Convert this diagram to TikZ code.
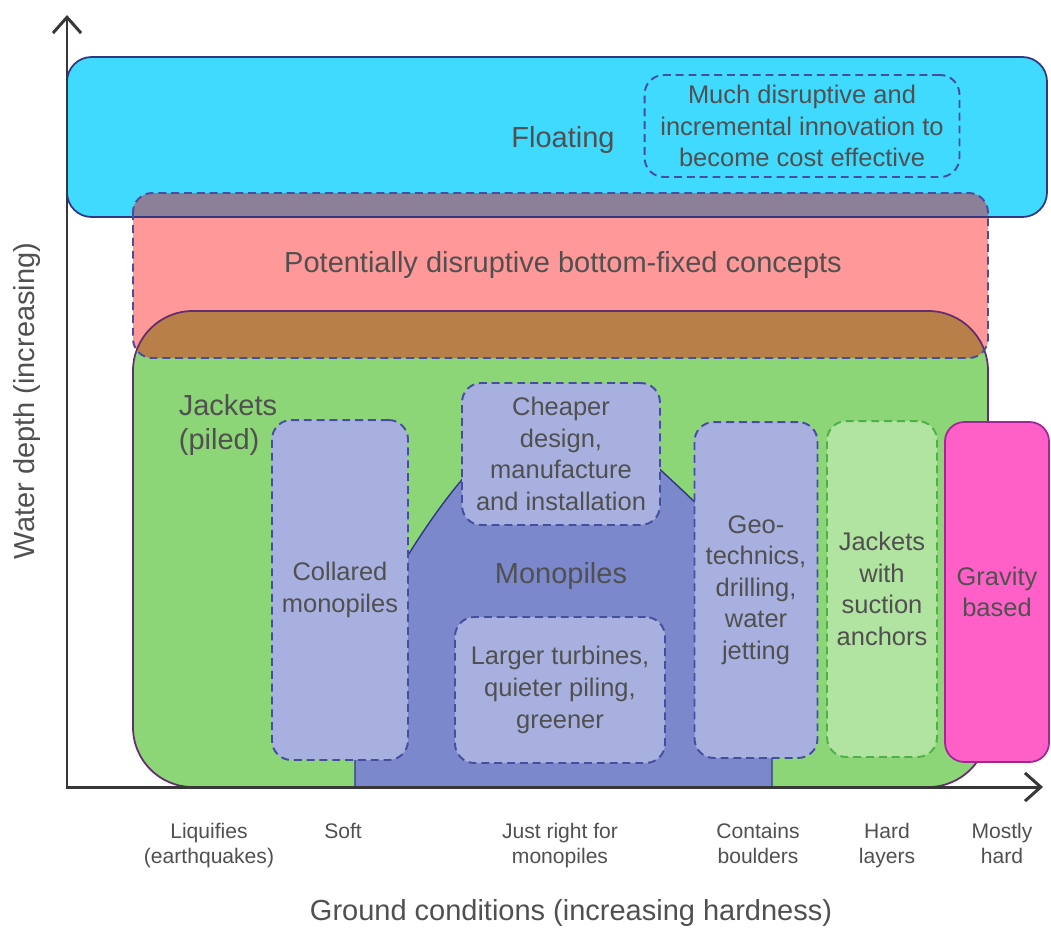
\documentclass[tikz,border=0pt]{standalone}
\usepackage{fontspec}
\setmainfont{Liberation Sans}
\usetikzlibrary{arrows.meta,positioning}

\definecolor{floatblue}{RGB}{64,218,255}
\definecolor{pinkfill}{RGB}{255,152,152}
\definecolor{jacketgreen}{RGB}{140,214,120}
\definecolor{bluepink}{RGB}{140,128,152}
\definecolor{brownmix}{RGB}{184,128,72}
\definecolor{monoblue}{RGB}{123,136,204}
\definecolor{lavender}{RGB}{168,176,224}
\definecolor{lightgreen}{RGB}{176,228,160}
\definecolor{gravpink}{RGB}{255,96,200}
\definecolor{navy}{RGB}{50,55,130}
\definecolor{dashnavy}{RGB}{70,78,160}
\definecolor{plum}{RGB}{100,45,110}
\definecolor{dashgreen}{RGB}{80,175,70}
\definecolor{magentaline}{RGB}{160,40,150}
\definecolor{txt}{RGB}{80,80,80}
\definecolor{axisgray}{RGB}{55,55,55}

\newcommand{\regionfont}{\fontsize{16.5}{19.5}\selectfont}
\newcommand{\boxfont}{\fontsize{14.5}{18}\selectfont}
\newcommand{\groundfont}{\fontsize{12}{14}\selectfont}

\begin{document}
\begin{tikzpicture}[
    x=0.02cm, y=-0.02cm,
    region/.style={line width=1pt},
    dashline/.style={dash pattern=on 4.5pt off 2.8pt, line width=1.1pt},
    dbox/.style={rectangle, rounded corners=11pt, draw=dashnavy, fill=lavender, dashline, text=txt, align=center, inner sep=0pt, font=\boxfont},
    label/.style={text=txt, align=center, font=\regionfont},
    ground/.style={text=txt, align=center, font=\groundfont, inner sep=0pt, anchor=north},
    axis/.style={arrows={Straight Barb[length=9pt,width=16pt]-Straight Barb[length=9pt,width=16pt]}, line width=1.7pt, draw=axisgray}
]
    \useasboundingbox (0,0) rectangle (1051,931);

    % regions
    \fill[floatblue, rounded corners=14pt] (67,57) rectangle (1047,217);
    \fill[jacketgreen, rounded corners=34pt] (133,311) rectangle (988,787);
    \fill[pinkfill, rounded corners=11pt] (133,193) rectangle (988,358);
    \begin{scope}
        \clip[rounded corners=11pt] (133,193) rectangle (988,358);
        \fill[bluepink, rounded corners=14pt] (67,57) rectangle (1047,217);
        \fill[brownmix, rounded corners=34pt] (133,311) rectangle (988,787);
    \end{scope}
    \draw[navy, region, rounded corners=14pt] (67,57) rectangle (1047,217);
    \draw[plum, region, rounded corners=34pt] (133,311) rectangle (988,787);
    \draw[dashnavy, dashline, rounded corners=11pt] (133,193) rectangle (988,358);

    % monopile dome
    \filldraw[fill=monoblue, draw=navy, line width=0.8pt] (355,787) -- (355,650)
        .. controls (380,600) and (430,510) .. (480,460)
        .. controls (520,425) and (610,425) .. (645,455)
        .. controls (690,500) and (772,560) .. (772,640) -- (772,787) -- cycle;

    \node[label] (floating) at (563,140) {Floating};
    \node[label] (disruptive) at (563,265) {Potentially disruptive bottom-fixed concepts};
    \node[label, align=left] (jackets) at (228,425) {Jackets\\(piled)};
    \node[label] (monopiles) at (561,576) {Monopiles};

    \node[dbox, fill=floatblue, minimum width=6.3cm, minimum height=2.04cm] (much) at (802,126) {Much disruptive and\\incremental innovation to\\become cost effective};
    \node[dbox, minimum width=2.72cm, minimum height=6.8cm] (collared) at (340,590) {Collared\\monopiles};
    \node[dbox, minimum width=3.96cm, minimum height=2.84cm] (cheaper) at (561,454) {Cheaper\\design,\\manufacture\\and installation};
    \node[dbox, minimum width=4.2cm, minimum height=2.92cm] (larger) at (560,690) {Larger turbines,\\quieter piling,\\greener};
    \node[dbox, minimum width=2.46cm, minimum height=6.72cm] (geotech) at (756,590) {Geo-\\technics,\\drilling,\\water\\jetting};
    \node[dbox, draw=dashgreen, fill=lightgreen, minimum width=2.2cm, minimum height=6.72cm] (suction) at (882,589) {Jackets\\with\\suction\\anchors};
    \node[dbox, solid, line width=1pt, draw=magentaline, fill=gravpink, minimum width=2.08cm, minimum height=6.8cm] (gravity) at (997,592) {Gravity\\based};

    % axes
    \coordinate (origin) at (67,787);
    \coordinate (ytip) at (67,15);
    \coordinate (xtip) at (1043,787);
    \draw[axis] (ytip) -- (origin) -- (xtip);

    \node[ground] (liquifies) at (209,823) {Liquifies\\(earthquakes)};
    \node[ground] (soft) at (343,823) {Soft};
    \node[ground] (justright) at (560,823) {Just right for\\monopiles};
    \node[ground] (boulders) at (758,823) {Contains\\boulders};
    \node[ground] (hardlayers) at (887,823) {Hard\\layers};
    \node[ground] (mostlyhard) at (1002,823) {Mostly\\hard};

    \node[label] (hardness) at (571,913) {Ground conditions (increasing hardness)};
    \node[label, rotate=90] (depth) at (27,401) {Water depth (increasing)};
\end{tikzpicture}
\end{document}
